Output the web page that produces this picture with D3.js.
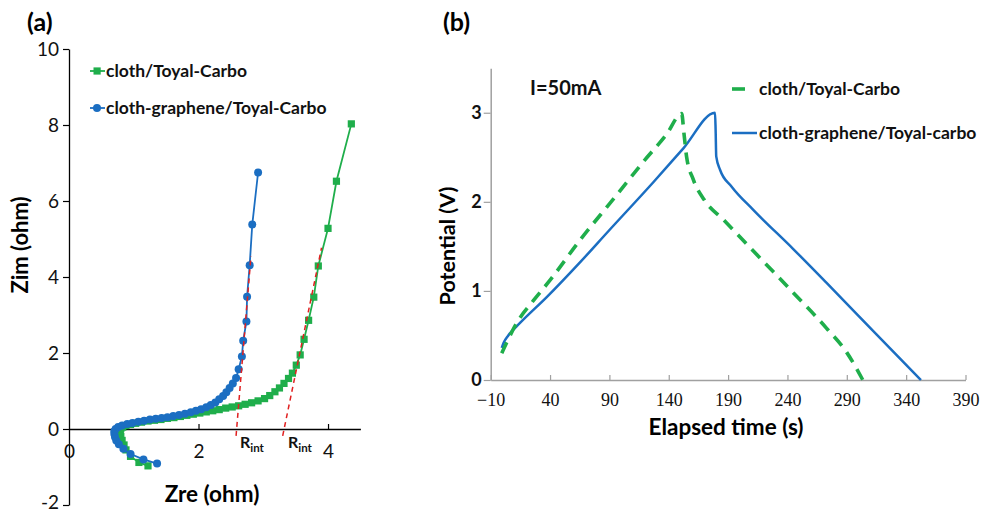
<!DOCTYPE html>
<html>
<head>
<meta charset="utf-8">
<script src="https://cdn.jsdelivr.net/npm/d3@7"></script>
<style>
  body { margin: 0; background: #fff; }
  svg { display: block; font-family: Lato, "Open Sans", sans-serif; }
</style>
</head>
<body>
<svg id="chart" width="988" height="514"></svg>
<script>
// Panel (a): Nyquist plot, Zre / Zim in ohm
const zreGreen = [1.22, 1.08, 0.95, 0.88, 0.85, 0.82, 0.80, 0.79, 0.79, 0.80, 0.83, 0.88, 0.95, 1.03, 1.12, 1.22,
  1.32, 1.42, 1.52, 1.62, 1.72, 1.82, 1.92, 2.02, 2.12, 2.22, 2.32, 2.42, 2.52, 2.62, 2.72, 2.82, 2.92, 3.02,
  3.10, 3.18, 3.25, 3.32, 3.39, 3.45, 3.51, 3.57, 3.63, 3.70, 3.78, 3.85, 4.00, 4.13, 4.36];
const zimGreen = [-0.97, -0.88, -0.72, -0.55, -0.42, -0.30, -0.20, -0.12, -0.05, 0.01, 0.05, 0.09, 0.12, 0.15, 0.18, 0.21,
  0.23, 0.25, 0.28, 0.30, 0.33, 0.36, 0.39, 0.42, 0.45, 0.48, 0.51, 0.55, 0.58, 0.61, 0.65, 0.69, 0.74, 0.80,
  0.88, 0.98, 1.08, 1.20, 1.33, 1.47, 1.68, 1.95, 2.36, 2.86, 3.47, 4.29, 5.28, 6.52, 8.03];

const zreBlue = [1.36, 1.15, 0.95, 0.84, 0.77, 0.73, 0.71, 0.70, 0.70, 0.72, 0.76, 0.82, 0.90, 0.98, 1.07, 1.16,
  1.25, 1.34, 1.43, 1.52, 1.61, 1.70, 1.79, 1.88, 1.96, 2.04, 2.12, 2.19, 2.26, 2.32, 2.38, 2.43, 2.48, 2.53,
  2.58, 2.62, 2.67, 2.69, 2.74, 2.75, 2.79, 2.83, 2.92];
const zimBlue = [-0.91, -0.80, -0.66, -0.52, -0.40, -0.30, -0.21, -0.13, -0.06, 0.0, 0.05, 0.09, 0.13, 0.16, 0.19, 0.22,
  0.25, 0.27, 0.29, 0.31, 0.34, 0.37, 0.40, 0.44, 0.48, 0.52, 0.57, 0.63, 0.70, 0.78, 0.87, 0.97, 1.08, 1.20,
  1.34, 1.57, 1.91, 2.32, 2.83, 3.48, 4.31, 5.38, 6.75];

// fitted lines used to read R_int
const fitBlueX = [2.58, 2.81];
const fitBlueY = [-0.18, 4.55];
const fitGreenX = [3.30, 3.90];
const fitGreenY = [-0.18, 4.77];

const zreTicks = [0, 2, 4];
const zimTicks = [-2, 0, 2, 4, 6, 8, 10];

// Panel (b): galvanostatic charge / discharge
const timeGreen = [-0.7, 3.5, 11.9, 25.9, 40, 65.2, 93.3, 118.6, 138.3, 150.9, 152.8, 155.1, 160.7, 170, 186,
  216.9, 244.9, 273, 289.9, 303.5];
const voltGreen = [0.30, 0.42, 0.64, 0.89, 1.12, 1.57, 2.03, 2.45, 2.76, 2.99, 2.77, 2.50, 2.25, 2.02, 1.80,
  1.37, 0.98, 0.58, 0.31, 0.0];

const timeBlue = [-0.7, 1, 4.8, 14.7, 37.2, 65.2, 89.1, 127, 152.3, 179, 179.5, 180, 183.2, 193, 211.2,
  244.9, 273, 315.2, 352.5];
const voltBlue = [0.36, 0.42, 0.50, 0.64, 0.93, 1.32, 1.67, 2.22, 2.60, 3.0, 2.8, 2.51, 2.36, 2.17, 1.91,
  1.47, 1.09, 0.51, 0.0];

const timeTicks = [-10, 40, 90, 140, 190, 240, 290, 340, 390];
const voltTicks = [0, 1, 2, 3];

const GREEN = '#1fae4b';
const BLUE = '#1b6ec2';
const RED = '#e02020';

const svg = d3.select('#chart');

// ---------- panel (a) ----------
const xA = d3.scaleLinear().domain([0, 4.5]).range([69, 360.4]);
const yA = d3.scaleLinear().domain([-2, 10]).range([505, 49]);

const gA = svg.append('g');

const yAxisA = gA
  .append('g')
  .attr('transform', `translate(${xA(0)},0)`)
  .call(
    d3.axisLeft(yA).tickValues(zimTicks).tickSize(6).tickSizeOuter(0).tickPadding(4)
      .tickFormat((d) => (d < 0 ? `-${-d}` : `${d}`))
  );

const xAxisA = gA
  .append('g')
  .attr('transform', `translate(0,${yA(0)})`)
  .call(
    d3.axisBottom(xA).tickValues(zreTicks).tickSize(-5).tickSizeOuter(0).tickPadding(16)
      .tickFormat((d) => `${d}`)
  );

[yAxisA, xAxisA].forEach((ax) => {
  ax.select('.domain').attr('stroke', '#000').attr('stroke-width', 1.3);
  ax.selectAll('.tick line').attr('stroke', '#000').attr('stroke-width', 1.2);
  ax.selectAll('.tick text').attr('font-family', 'Lato, sans-serif').attr('font-size', 19).attr('fill', '#111');
});
xAxisA.selectAll('.tick').filter((d) => d === 0).select('line').remove();
yAxisA.selectAll('.tick').filter((d) => d === -2).select('text').attr('dy', '0.2em');

const lineA = d3.line().x((d) => xA(d[0])).y((d) => yA(d[1]));

const greenPts = zreGreen.map((x, i) => [x, zimGreen[i]]);
const bluePts = zreBlue.map((x, i) => [x, zimBlue[i]]);

gA.append('path').datum(greenPts).attr('d', lineA).attr('fill', 'none').attr('stroke', GREEN).attr('stroke-width', 1.8);
gA.selectAll('.sq')
  .data(greenPts)
  .enter()
  .append('rect')
  .attr('x', (d) => xA(d[0]) - 3.6)
  .attr('y', (d) => yA(d[1]) - 3.6)
  .attr('width', 7.2)
  .attr('height', 7.2)
  .attr('fill', GREEN);

gA.append('path').datum(bluePts).attr('d', lineA).attr('fill', 'none').attr('stroke', BLUE).attr('stroke-width', 1.8);
gA.selectAll('.dot')
  .data(bluePts)
  .enter()
  .append('circle')
  .attr('cx', (d) => xA(d[0]))
  .attr('cy', (d) => yA(d[1]))
  .attr('r', 4)
  .attr('fill', BLUE);

// dashed fit lines
[[fitBlueX, fitBlueY], [fitGreenX, fitGreenY]].forEach(([fx, fy]) => {
  gA.append('path')
    .datum(fx.map((x, i) => [x, fy[i]]))
    .attr('d', lineA)
    .attr('fill', 'none')
    .attr('stroke', RED)
    .attr('stroke-width', 1.5)
    .attr('stroke-dasharray', '5,4');
});

// R_int labels
[240, 288].forEach((px) => {
  const t = gA.append('text').attr('x', px).attr('y', 448).attr('font-size', 16).attr('font-weight', 700).attr('fill', '#111');
  t.append('tspan').text('R');
  t.append('tspan').attr('dy', 4).attr('font-size', 11.5).text('int');
});

// titles (a)
gA.append('text').attr('x', 27).attr('y', 31).attr('font-size', 25).attr('font-weight', 700).text('(a)');
gA.append('text')
  .attr('transform', 'translate(28,245) rotate(-90)')
  .attr('text-anchor', 'middle')
  .attr('font-size', 22)
  .attr('font-weight', 700)
  .text('Zim (ohm)');
gA.append('text').attr('x', 212).attr('y', 502).attr('text-anchor', 'middle').attr('font-size', 22.5).attr('font-weight', 700).text('Zre (ohm)');

// legend (a)
const legA = [
  { label: 'cloth/Toyal-Carbo', color: GREEN, y: 71, shape: 'square' },
  { label: 'cloth-graphene/Toyal-Carbo', color: BLUE, y: 108, shape: 'circle' },
];
legA.forEach((l) => {
  gA.append('line').attr('x1', 90).attr('x2', 105).attr('y1', l.y).attr('y2', l.y).attr('stroke', l.color).attr('stroke-width', 1.8);
  if (l.shape === 'square') {
    gA.append('rect').attr('x', 93.5).attr('y', l.y - 3.6).attr('width', 7.2).attr('height', 7.2).attr('fill', l.color);
  } else {
    gA.append('circle').attr('cx', 97).attr('cy', l.y).attr('r', 4).attr('fill', l.color);
  }
  gA.append('text').attr('x', 106).attr('y', l.y).attr('dy', '0.35em').attr('font-size', 17.5).attr('font-weight', 700).attr('fill', '#111').text(l.label);
});

// ---------- panel (b) ----------
const xB = d3.scaleLinear().domain([-10, 390]).range([490.7, 965.5]);
const yB = d3.scaleLinear().domain([0, 3.5]).range([380, 68.2]);

const gB = svg.append('g');

const xAxisB = gB
  .append('g')
  .attr('transform', `translate(0,${yB(0)})`)
  .call(d3.axisBottom(xB).tickValues(timeTicks).tickSize(-5).tickSizeOuter(0).tickPadding(13));
xAxisB.selectAll('.tick text').attr('font-family', '"Liberation Serif", "DejaVu Serif", serif').attr('font-size', 18).attr('fill', '#111');

const yAxisB = gB
  .append('g')
  .attr('transform', `translate(${xB(-10)},0)`)
  .call(d3.axisLeft(yB).tickValues(voltTicks).tickSize(7).tickSizeOuter(0).tickPadding(2).tickFormat((d) => `${d}`));
yAxisB.selectAll('.tick text').attr('font-family', 'Lato, sans-serif').attr('font-size', 18).attr('font-weight', 700).attr('fill', '#111');

[xAxisB, yAxisB].forEach((ax) => {
  ax.select('.domain').attr('stroke', '#a0a0a0').attr('stroke-width', 1.5);
  ax.selectAll('.tick line').attr('stroke', '#a0a0a0').attr('stroke-width', 1.2);
});

const lineB = d3.line().x((d) => xB(d[0])).y((d) => yB(d[1])).curve(d3.curveMonotoneX);

gB.append('path')
  .datum(timeBlue.map((t, i) => [t, voltBlue[i]]))
  .attr('d', lineB)
  .attr('fill', 'none')
  .attr('stroke', BLUE)
  .attr('stroke-width', 2.5);

gB.append('path')
  .datum(timeGreen.map((t, i) => [t, voltGreen[i]]))
  .attr('d', lineB)
  .attr('fill', 'none')
  .attr('stroke', GREEN)
  .attr('stroke-width', 3.6)
  .attr('stroke-dasharray', '12,8');

// titles (b)
gB.append('text').attr('x', 443).attr('y', 31).attr('font-size', 25).attr('font-weight', 700).text('(b)');
gB.append('text')
  .attr('transform', 'translate(455,246) rotate(-90)')
  .attr('text-anchor', 'middle')
  .attr('font-size', 21.5)
  .attr('font-weight', 700)
  .text('Potential (V)');
gB.append('text').attr('x', 726).attr('y', 435).attr('text-anchor', 'middle').attr('font-size', 22.5).attr('font-weight', 700).text('Elapsed time (s)');
gB.append('text').attr('x', 530).attr('y', 88).attr('dy', '0.35em').attr('font-size', 20).attr('font-weight', 700).attr('fill', '#111').text('I=50mA');

// legend (b)
gB.append('line').attr('x1', 732).attr('x2', 745).attr('y1', 89).attr('y2', 89).attr('stroke', GREEN).attr('stroke-width', 3.6);
gB.append('text').attr('x', 759).attr('y', 89).attr('dy', '0.35em').attr('font-size', 17.5).attr('font-weight', 700).attr('fill', '#111').text('cloth/Toyal-Carbo');
gB.append('line').attr('x1', 732).attr('x2', 757).attr('y1', 133).attr('y2', 133).attr('stroke', BLUE).attr('stroke-width', 2.5);
gB.append('text').attr('x', 759).attr('y', 133).attr('dy', '0.35em').attr('font-size', 17.5).attr('font-weight', 700).attr('fill', '#111').text('cloth-graphene/Toyal-carbo');
</script>
</body>
</html>
